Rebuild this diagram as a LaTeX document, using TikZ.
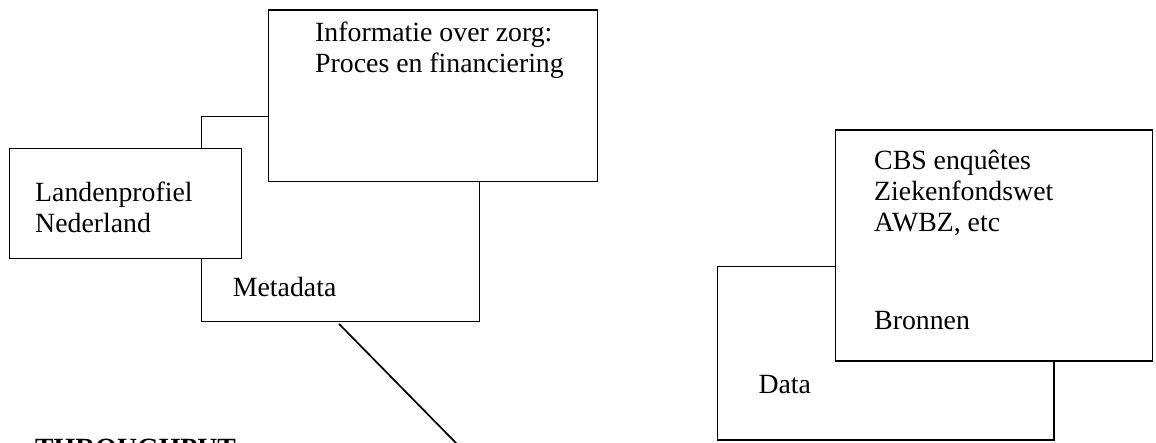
\documentclass[tikz,border=0pt]{standalone}
\usepackage{fontspec}
\setmainfont{Liberation Serif}
\usetikzlibrary{calc}
\tikzset{
  box/.style={draw=black, fill=white, line width=1.2pt, rectangle, inner sep=0pt, anchor=north west},
  txt/.style={inner sep=0pt, anchor=base west, align=left, font=\fontsize{27.8}{31}\selectfont},
  link/.style={draw=black, line width=1.7pt}
}
\begin{document}
\begin{tikzpicture}[x=1pt,y=-1pt]
\useasboundingbox[fill=white] (0,0) rectangle (1156,442);
% left group
\node[box, minimum width=277.7pt, minimum height=205pt] (meta) at (201,115.7) {};
\node[box, minimum width=231.7pt, minimum height=110pt] (land) at (9,147.7) {};
\node[box, minimum width=329pt, minimum height=171.2pt] (info) at (267.5,9.3) {};
\node[txt] (infotxt) at (315,72.7) {Informatie over zorg:\\Proces en financiering};
\node[txt] (landtxt) at (35,232.7) {Landenprofiel\\Nederland};
\node[txt] (metatxt) at (232.7,296.7) {Metadata};
\node[txt, font=\fontsize{27.8}{31}\selectfont\bfseries] (thr) at (35,457) {THROUGHPUT};
\coordinate (lend) at (457,444);
\draw[link] ([xshift=138pt,yshift=-2pt]meta.south west) -- (lend);
% right group
\node[box, minimum width=336.6pt, minimum height=173.3pt] (data) at (716.7,266) {};
\node[box, minimum width=317pt, minimum height=231pt] (bron) at (835,129.3) {};
\node[txt] (bronlist) at (874,231.7) {CBS enquêtes\\Ziekenfondswet\\AWBZ, etc};
\node[txt] (brontxt) at (874,329.3) {Bronnen};
\node[txt] (datatxt) at (758.3,393.3) {Data};
\end{tikzpicture}
\end{document}
